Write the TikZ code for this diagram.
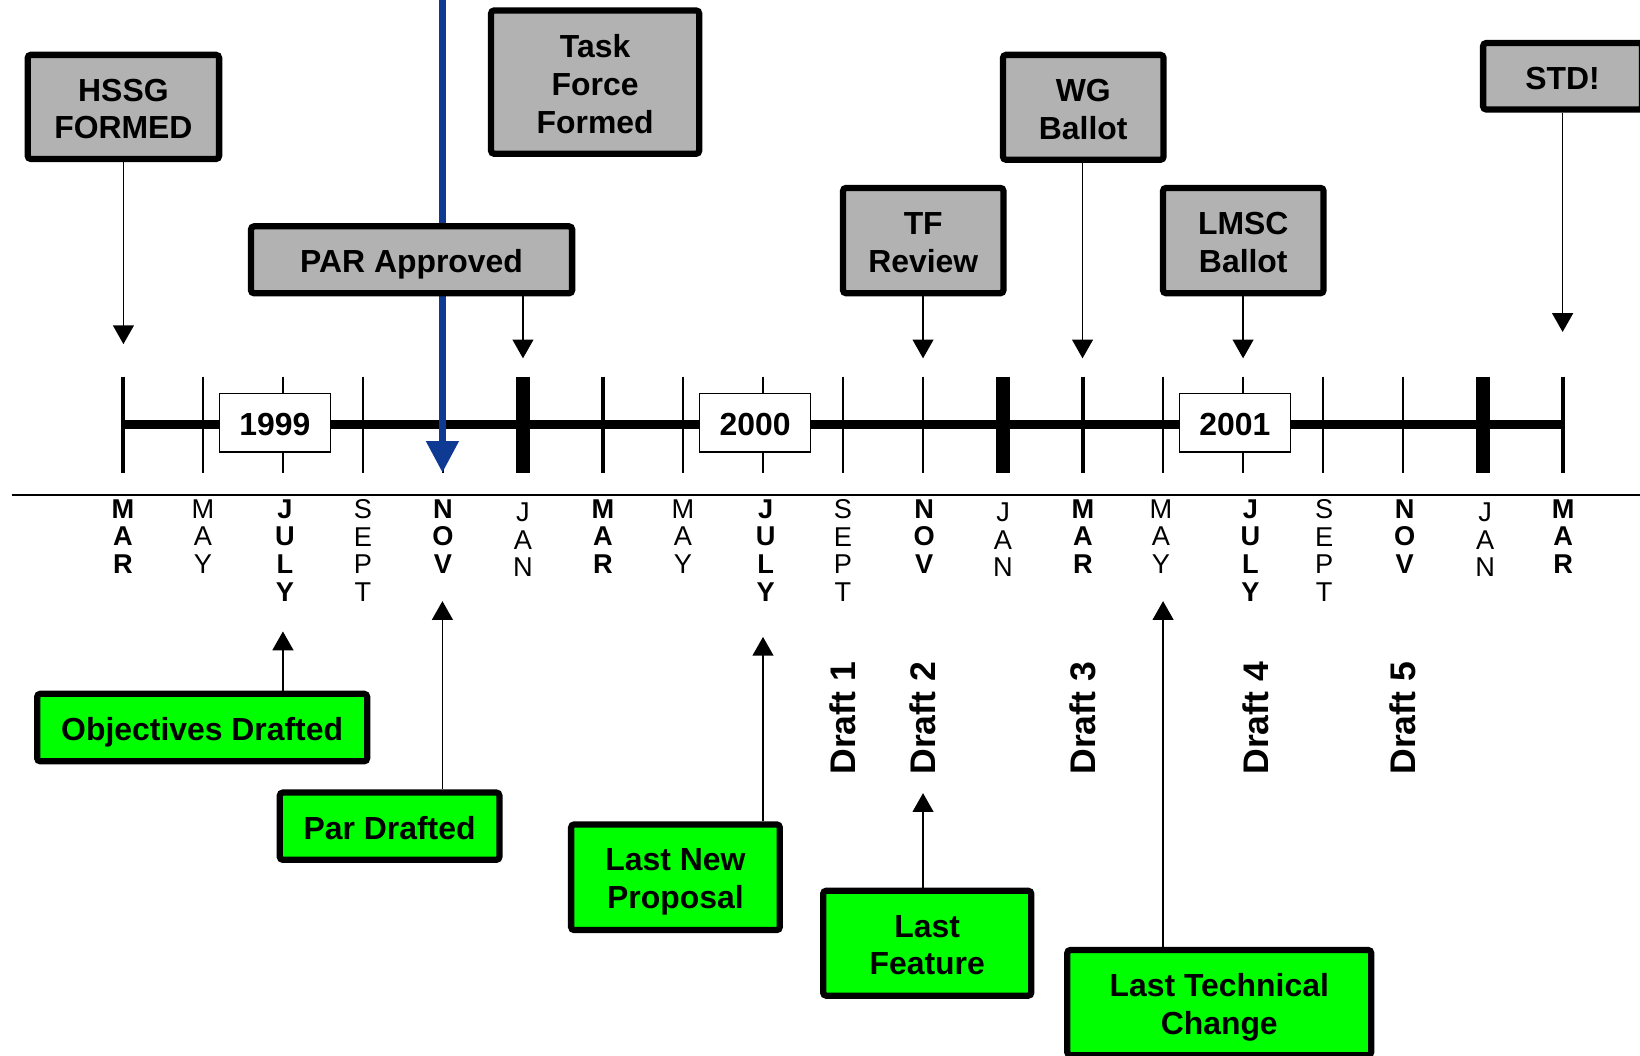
\documentclass[tikz,border=0pt]{standalone}
\usepackage{fontspec}
\setmainfont{Liberation Sans}
\usetikzlibrary{arrows.meta}
\definecolor{boxgray}{RGB}{178,178,178}
\definecolor{boxgreen}{RGB}{0,255,0}
\definecolor{pblue}{RGB}{14,58,148}
\begin{document}
\begin{tikzpicture}[x=0.5pt,y=-0.5pt,
  evt/.style={draw=black, line width=3pt, fill=boxgray, rounded corners=1.5pt, inner sep=0pt},
  mst/.style={draw=black, line width=3pt, fill=boxgreen, rounded corners=1.5pt, inner sep=0pt},
  btxt/.style={align=center, inner sep=0pt, font=\bfseries\fontsize{15.25}{18}\selectfont},
  gtxt/.style={btxt, yshift=-1pt},
  ntxt/.style={btxt, yshift=-2.3pt},
  yearbox/.style={draw=black, line width=0.7pt, fill=white, inner sep=0pt, minimum width=53pt, minimum height=28pt},
  conn/.style={line width=0.75pt, -{Triangle[width=10pt,length=9pt]}},
  bmon/.style={anchor=north, inner sep=0pt, align=center, font=\bfseries\fontsize{13}{13.3}\selectfont},
  rmon/.style={anchor=north, inner sep=0pt, align=center, font=\fontsize{13}{13.3}\selectfont},
  draftlbl/.style={rotate=90, anchor=west, inner sep=0pt, font=\bfseries\fontsize{17}{20}\selectfont},
  smalltick/.style={line width=1.1pt},
  martick/.style={line width=1.6pt},
  jantick/.style={line width=6.4pt},
]
\clip (0,0) rectangle (1568,1009);
\fill[white] (0,0) rectangle (1568,1009);

% separator line
\coordinate (sepL) at (11,473.6);
\coordinate (sepR) at (1570,473.6);
\draw[line width=1pt] (sepL) -- (sepR);

% ticks
\foreach \i in {0,...,18}{
  \pgfmathsetmacro{\xx}{117.5+76.5*\i}
  \pgfmathtruncatemacro{\mm}{mod(\i,6)}
  \coordinate (t\i) at (\xx,406);
  \ifnum\mm=0
    \draw[martick] (\xx,360) -- (\xx,452);
  \else\ifnum\mm=5
    \draw[jantick] (\xx,360) -- (\xx,452);
  \else
    \draw[smalltick] (\xx,360) -- (\xx,452);
  \fi\fi
}
% timeline
\draw[line width=4pt] (t0) -- (t18);

% year boxes
\node[yearbox, label={[gtxt]center:1999}] (y1999) at (262.8,404) {};
\node[yearbox, label={[gtxt]center:2000}] (y2000) at (722,404) {};
\node[yearbox, label={[gtxt]center:2001}] (y2001) at (1180.7,404) {};

% month labels
\foreach \i/\lab/\st/\dx/\dy in {
  0/M\\A\\R/bmon/0/0, 1/M\\A\\Y/rmon/0/0, 2/J\\U\\L\\Y/bmon/2/0, 3/S\\E\\P\\T/rmon/0/0,
  4/N\\O\\V/bmon/0/0, 5/J\\A\\N/rmon/0/3, 6/M\\A\\R/bmon/0/0, 7/M\\A\\Y/rmon/0/0,
  8/J\\U\\L\\Y/bmon/2.5/0, 9/S\\E\\P\\T/rmon/0/0, 10/N\\O\\V/bmon/1/0, 11/J\\A\\N/rmon/0/3,
  12/M\\A\\R/bmon/0/0, 13/M\\A\\Y/rmon/-2/0, 14/J\\U\\L\\Y/bmon/7/0, 15/S\\E\\P\\T/rmon/1/0,
  16/N\\O\\V/bmon/1.5/0, 17/J\\A\\N/rmon/2/3, 18/M\\A\\R/bmon/0/0}{
  \pgfmathsetmacro{\xx}{117.5+76.5*\i+\dx}
  \pgfmathsetmacro{\yy}{477+\dy}
  \node[\st] (lab\i) at (\xx,\yy) {\lab};
}

% blue arrow (behind PAR box)
\coordinate (bluetop) at (423,-5);
\coordinate (bluetip) at (423,451.8);
\draw[pblue, line width=3pt, -{Triangle[width=15pt,length=15pt]}] (bluetop) -- (bluetip);

% top event boxes
\node[evt, minimum width=91.5pt, minimum height=49.75pt, label={[gtxt]center:HSSG\\FORMED}] (hssg) at (118,102.2) {};
\node[evt, minimum width=99.5pt, minimum height=68.5pt, label={[gtxt]center:Task\\Force\\Formed}] (tff) at (569,78.5) {};
\node[evt, minimum width=153.5pt, minimum height=32pt, label={[ntxt]center:PAR Approved}] (par) at (393.5,248.4) {};
\node[evt, minimum width=76.7pt, minimum height=50.35pt, label={[gtxt]center:TF\\Review}] (tfr) at (882.7,230) {};
\node[evt, minimum width=76.75pt, minimum height=50.15pt, label={[gtxt]center:WG\\Ballot}] (wgb) at (1035.7,102.6) {};
\node[evt, minimum width=76.75pt, minimum height=50.35pt, label={[gtxt]center:LMSC\\Ballot}] (lmsc) at (1188.7,230) {};
\node[evt, minimum width=76pt, minimum height=31.75pt, label={[gtxt]center:STD!}] (std) at (1494,72.9) {};

\coordinate (hssgtip) at (118,329);
\coordinate (partip) at (500,342.6);
\coordinate (tfrtip) at (882.5,342.6);
\coordinate (wgbtip) at (1035,342.6);
\coordinate (lmsctip) at (1188.5,342.6);
\coordinate (stdtip) at (1494,317.4);
\draw[conn] (hssg.south -| hssgtip) -- (hssgtip);
\draw[conn] (par.south -| partip) -- (partip);
\draw[conn] (tfr.south -| tfrtip) -- (tfrtip);
\draw[conn] (wgb.south -| wgbtip) -- (wgbtip);
\draw[conn] (lmsc.south -| lmsctip) -- (lmsctip);
\draw[conn] (std.south -| stdtip) -- (stdtip);

% bottom milestone boxes
\node[mst, minimum width=157.75pt, minimum height=32.25pt, label={[ntxt]center:Objectives Drafted}] (obj) at (193.3,695.6) {};
\node[mst, minimum width=105pt, minimum height=32.15pt, label={[gtxt]center:Par Drafted}] (pard) at (372.5,789.9) {};
\node[mst, minimum width=99.75pt, minimum height=50.5pt, label={[ntxt]center:Last New\\Proposal}] (lnp) at (645.8,838.7) {};
\node[mst, minimum width=99.5pt, minimum height=50.15pt, label={[gtxt]center:Last\\Feature}] (lf) at (886.5,901.8) {};
\node[mst, minimum width=145.3pt, minimum height=50.3pt, label={[ntxt]center:Last Technical\\Change}] (ltc) at (1165.7,958.6) {};

\coordinate (objtip) at (270.5,603.7);
\coordinate (pardtip) at (423,574.7);
\coordinate (lnptip) at (729.5,608.9);
\coordinate (lftip) at (882.5,758.3);
\coordinate (ltctip) at (1112,574.7);
\draw[conn] (obj.north -| objtip) -- (objtip);
\draw[conn] (pard.north -| pardtip) -- (pardtip);
\draw[conn] (lnp.north -| lnptip) -- (lnptip);
\draw[conn] (lf.north -| lftip) -- (lftip);
\draw[conn] (ltc.north -| ltctip) -- (ltctip);

% draft labels
\node[draftlbl] (d1) at (806,741) {Draft 1};
\node[draftlbl] (d2) at (882.5,741) {Draft 2};
\node[draftlbl] (d3) at (1035,741) {Draft 3};
\node[draftlbl] (d4) at (1201,741) {Draft 4};
\node[draftlbl] (d5) at (1341.5,741) {Draft 5};
\end{tikzpicture}
\end{document}
